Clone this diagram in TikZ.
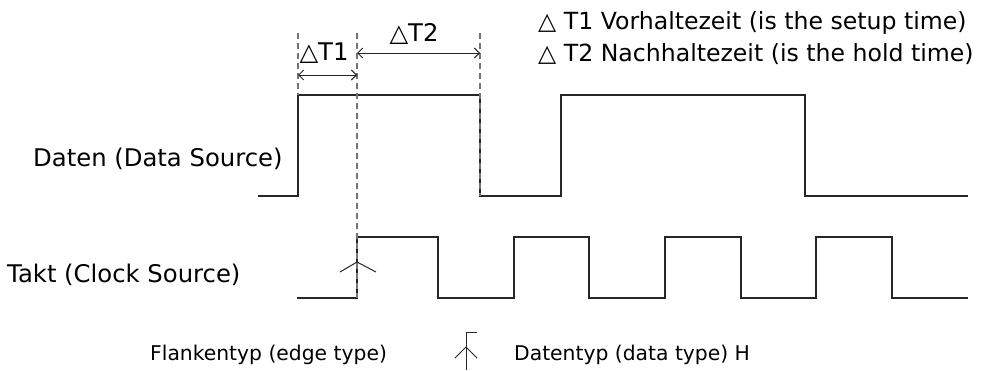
\documentclass[tikz,border=0pt]{standalone}
\usepackage{fontspec}
\setmainfont{DejaVu Sans}
\usetikzlibrary{arrows.meta}
\begin{document}
\begin{tikzpicture}[x=1pt,y=-1pt,
  wave/.style={line width=1.3pt,draw=black!85},
  guide/.style={line width=1.2pt,draw=black!55,dash pattern=on 6pt off 4pt},
  dim/.style={line width=0.9pt,draw=black!85,{Straight Barb[length=5pt,width=10pt]}-{Straight Barb[length=5pt,width=10pt]}},
  edgesym/.style={line width=1pt,draw=black!85},
  lbl/.style={inner sep=0pt,font=\fontsize{24.3}{27}\selectfont},
  note/.style={inner sep=0pt,font=\fontsize{23.6}{27}\selectfont},
  small/.style={inner sep=0pt,font=\fontsize{20.3}{23}\selectfont}]
\useasboundingbox (0,0) rectangle (982,370);
% guide coordinates
\coordinate (g1t) at (298,33);
\coordinate (g1b) at (298,95);
\coordinate (g2t) at (357,33);
\coordinate (g2b) at (357,298);
\coordinate (g3t) at (480,33);
\coordinate (g3b) at (480,196);
% data waveform
\coordinate (d0) at (258,196);
\coordinate (d9) at (968,196);
\draw[wave] (d0) -- (298,196) -- (298,95) -- (480,95) -- (480,196) -- (561,196) -- (561,95) -- (805,95) -- (805,196) -- (d9);
% clock waveform
\coordinate (c0) at (297,298);
\coordinate (c9) at (968,298);
\draw[wave] (c0) -- (357,298) -- (357,237) -- (438,237) -- (438,298) -- (514,298) -- (514,237) -- (589,237) -- (589,298) -- (665,298) -- (665,237) -- (741,237) -- (741,298) -- (816,298) -- (816,237) -- (892,237) -- (892,298) -- (c9);
% guides
\draw[guide] (g1t) -- (g1b);
\draw[guide] (g2t) -- (g2b);
\draw[guide] (g3t) -- (g3b);
% dimension arrows
\coordinate (a1l) at (298,75);
\coordinate (a1r) at (357,75);
\coordinate (a2l) at (357,53);
\coordinate (a2r) at (480,53);
\draw[dim] (a1l) -- (a1r);
\draw[dim] (a2l) -- (a2r);
\node[lbl] (t1) at (324,53) {△T1};
\node[lbl] (t2) at (414,34) {△T2};
% edge mark on clock
\coordinate (ev) at (357,262);
\coordinate (el) at (340,272);
\coordinate (er) at (376,272);
\draw[edgesym] (el) -- (ev) -- (er);
% labels
\node[lbl,anchor=base west] (dl) at (33,166) {Daten (Data Source)};
\node[lbl,anchor=base west] (cl) at (7,282) {Takt (Clock Source)};
\node[note,anchor=base west] (n1) at (538,29) {△ T1 Vorhaltezeit (is the setup time)};
\node[note,anchor=base west] (n2) at (538,61) {△ T2 Nachhaltezeit (is the hold time)};
% legend
\node[small,anchor=base west] (fl) at (150,360) {Flankentyp (edge type)};
\node[small,anchor=base west] (dt) at (514,360) {Datentyp (data type) H};
\coordinate (s0) at (466,370);
\coordinate (s1) at (466,332);
\coordinate (s2) at (477,332);
\coordinate (sv) at (466,347);
\coordinate (sl) at (455,358);
\coordinate (sr) at (477,358);
\draw[edgesym] (s0) -- (s1) -- (s2);
\draw[edgesym] (sl) -- (sv) -- (sr);
\end{tikzpicture}
\end{document}
